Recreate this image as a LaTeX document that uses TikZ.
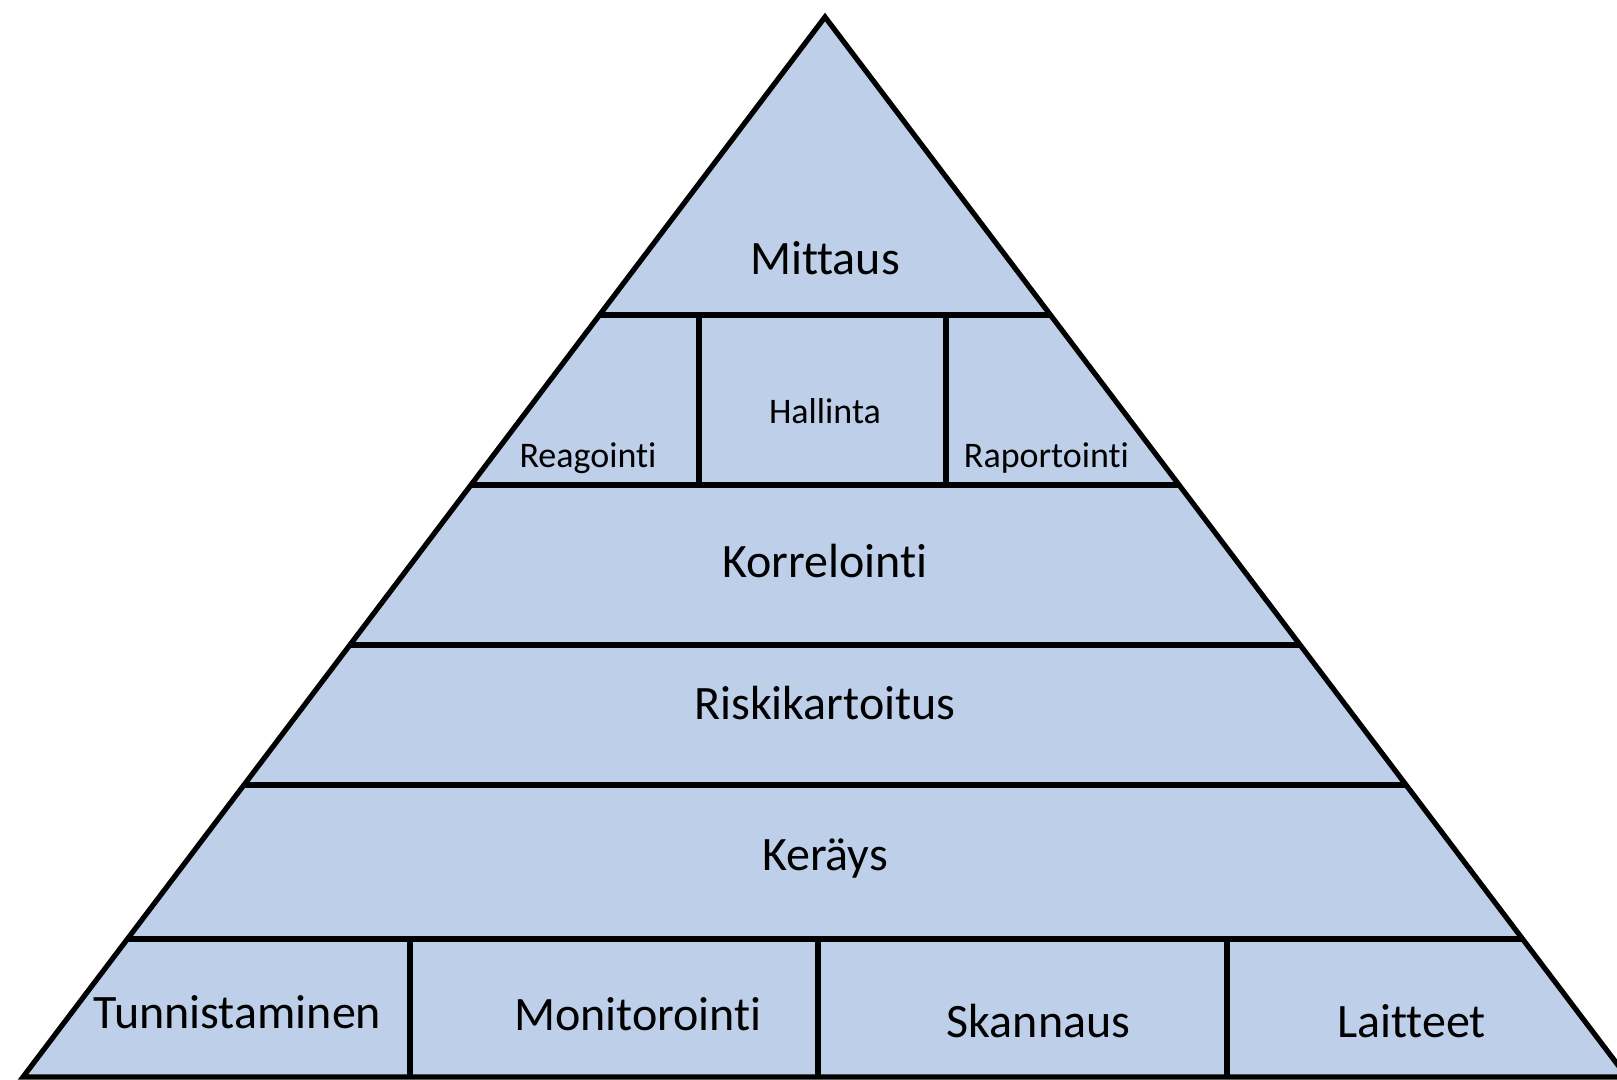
\documentclass[tikz,border=0pt]{standalone}
\usepackage{fontspec}
\setmainfont[Ligatures={NoCommon}]{Carlito}
\usetikzlibrary{calc}
\definecolor{tierfill}{RGB}{189,207,233}
\tikzset{
  edge/.style={line width=3.9pt, draw=black, line join=miter},
  biglabel/.style={anchor=base, inner sep=0pt, font=\fontsize{36}{40}\selectfont},
  smalllabel/.style={anchor=base, inner sep=0pt, font=\fontsize{27}{30}\selectfont}
}
\begin{document}
\begin{tikzpicture}[x=0.75pt, y=-0.75pt]
  \useasboundingbox (0,0) rectangle (1617,1080);
  \clip (0,0) rectangle (1617,1080);
  % corners of the pyramid
  \coordinate (A) at (825,17);
  \coordinate (BL) at (23,1077);
  \coordinate (BR) at (1627,1077);
  % tier boundaries on the two slanted sides
  \foreach \n/\t in {1/0.28113, 2/0.44151, 3/0.59245, 4/0.72453, 5/0.86981} {
    \coordinate (L\n) at ($(A)!\t!(BL)$);
    \coordinate (R\n) at ($(A)!\t!(BR)$);
  }
  % body
  \fill[tierfill] (A) -- (BL) -- (BR) -- cycle;
  % horizontal tier lines
  \foreach \n in {1,...,5} { \draw[edge] (L\n) -- (R\n); }
  % dividers in the second tier
  \draw[edge] (699,315) -- (699,485);
  \draw[edge] (946,315) -- (946,485);
  % dividers in the bottom tier
  \draw[edge] (410,939) -- (410,1077);
  \draw[edge] (818,939) -- (818,1077);
  \draw[edge] (1227,939) -- (1227,1077);
  % outline
  \draw[edge] (A) -- (BL) -- (BR) -- cycle;
  % labels
  \node[biglabel] (mittaus) at (825,274.5) {Mittaus};
  \node[smalllabel] (hallinta) at (825,423) {Hallinta};
  \node[smalllabel] (reagointi) at (588,467.5) {Reagointi};
  \node[smalllabel] (raportointi) at (1046.5,467.5) {Raportointi};
  \node[biglabel] (korrelointi) at (825,577) {Korrelointi};
  \node[biglabel] (riski) at (825,719.5) {Riskikartoitus};
  \node[biglabel] (keruu) at (825,870.5) {Keräys};
  \node[biglabel] (tunnistaminen) at (237.5,1028.5) {Tunnistaminen};
  \node[biglabel] (monitorointi) at (638,1030) {Monitorointi};
  \node[biglabel] (skannaus) at (1038.5,1037.5) {Skannaus};
  \node[biglabel] (laitteet) at (1411.5,1037.5) {Laitteet};
\end{tikzpicture}
\end{document}
